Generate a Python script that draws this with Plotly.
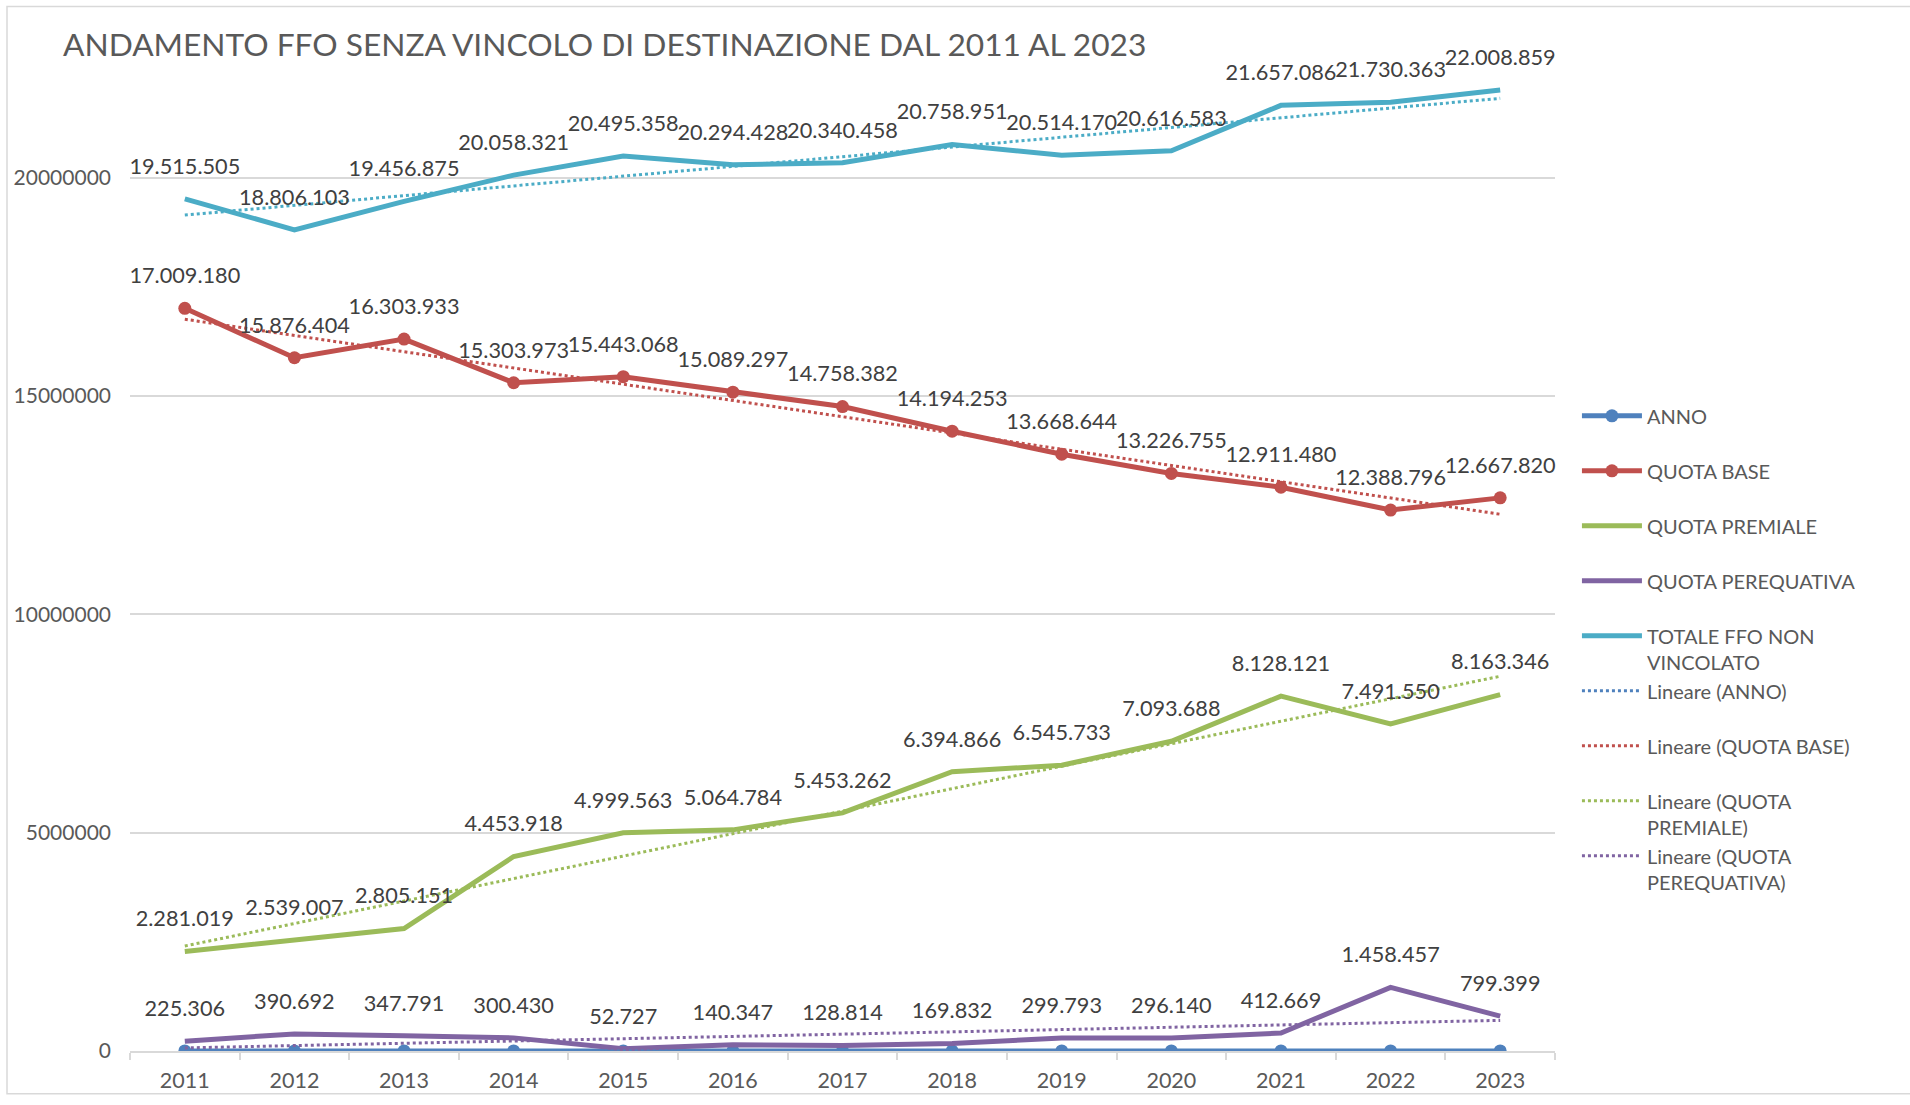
import numpy as np
import plotly.graph_objects as go

# ---------------- data ----------------
years = ["2011", "2012", "2013", "2014", "2015", "2016", "2017",
         "2018", "2019", "2020", "2021", "2022", "2023"]
anno = [2011, 2012, 2013, 2014, 2015, 2016, 2017, 2018, 2019, 2020, 2021, 2022, 2023]
quota_base = [17009180, 15876404, 16303933, 15303973, 15443068, 15089297, 14758382,
              14194253, 13668644, 13226755, 12911480, 12388796, 12667820]
quota_premiale = [2281019, 2539007, 2805151, 4453918, 4999563, 5064784, 5453262,
                  6394866, 6545733, 7093688, 8128121, 7491550, 8163346]
quota_perequativa = [225306, 390692, 347791, 300430, 52727, 140347, 128814,
                     169832, 299793, 296140, 412669, 1458457, 799399]
totale = [19515505, 18806103, 19456875, 20058321, 20495358, 20294428, 20340458,
          20758951, 20514170, 20616583, 21657086, 21730363, 22008859]
y_ticks = [0, 5000000, 10000000, 15000000, 20000000]

C_ANNO = "#4F81BD"
C_BASE = "#C0504D"
C_PREM = "#9BBB59"
C_PERE = "#8064A2"
C_TOT = "#4BACC6"

FONT = "Lato"
GREY = "#595959"
LABEL = "#404040"

fig = go.Figure()

PAD = "<br> "

fig.add_trace(go.Scatter(x=years, y=anno, mode="lines+markers", name="ANNO" + PAD,
                         line=dict(color=C_ANNO, width=5), marker=dict(size=13, color=C_ANNO)))
fig.add_trace(go.Scatter(x=years, y=quota_base, mode="lines+markers", name="QUOTA BASE" + PAD,
                         line=dict(color=C_BASE, width=5), marker=dict(size=13, color=C_BASE)))
fig.add_trace(go.Scatter(x=years, y=quota_premiale, mode="lines", name="QUOTA PREMIALE" + PAD,
                         line=dict(color=C_PREM, width=5)))
fig.add_trace(go.Scatter(x=years, y=quota_perequativa, mode="lines", name="QUOTA PEREQUATIVA" + PAD,
                         line=dict(color=C_PERE, width=5)))
fig.add_trace(go.Scatter(x=years, y=totale, mode="lines", name="TOTALE FFO NON<br>VINCOLATO",
                         line=dict(color=C_TOT, width=5)))

# linear trendlines (least squares, as Excel)
idx = np.arange(len(years))
trend_specs = [
    (anno, C_ANNO, "Lineare (ANNO)" + PAD),
    (quota_base, C_BASE, "Lineare (QUOTA BASE)" + PAD),
    (quota_premiale, C_PREM, "Lineare (QUOTA<br>PREMIALE)"),
    (quota_perequativa, C_PERE, "Lineare (QUOTA<br>PEREQUATIVA)"),
    (totale, C_TOT, "Lineare (TOTALE FFO NON VINCOLATO)"),
]
for vals, col, nm in trend_specs:
    m, q = np.polyfit(idx, np.array(vals, dtype=float), 1)
    fig.add_trace(go.Scatter(x=years, y=m * idx + q, mode="lines", name=nm,
                             line=dict(color=col, width=3, dash="dot"),
                             showlegend=(col != C_TOT), hoverinfo="skip"))

# data labels (separate text layers, offset above the points)
for vals in [totale, quota_base, quota_premiale, quota_perequativa]:
    fig.add_trace(go.Scatter(x=years, y=vals, mode="markers+text",
                             marker=dict(size=30, color="rgba(0,0,0,0)"),
                             texttemplate="%{y:,.0f}", textposition="top center",
                             textfont=dict(family=FONT, size=21.7, color=LABEL),
                             showlegend=False, hoverinfo="skip", cliponaxis=False))

T, B = 62, 46
fig.update_layout(
    width=1910,
    height=1105,
    autosize=False,
    separators=",.",
    paper_bgcolor="white",
    plot_bgcolor="white",
    margin=dict(l=130, r=355, t=T, b=B),
    font=dict(family=FONT, color=GREY, size=20),
    title=dict(text="ANDAMENTO FFO SENZA VINCOLO DI DESTINAZIONE DAL 2011 AL 2023",
               font=dict(family=FONT, size=31.7, color=GREY),
               x=63 / 1910, xanchor="left", xref="container",
               y=1 - 45 / 1105, yanchor="middle", yref="container"),
    legend=dict(x=1.0154, xanchor="left", y=0.662, yanchor="top",
                font=dict(family=FONT, size=20, color=GREY),
                valign="top", itemwidth=60, bgcolor="rgba(0,0,0,0)",
                traceorder="normal"),
    xaxis=dict(type="category", range=[-0.5, 12.5], showline=True, linecolor="#D9D9D9",
               linewidth=1.5, ticks="outside", tickson="boundaries", ticklen=7,
               tickcolor="#D9D9D9", tickwidth=1.5, showgrid=False,
               tickfont=dict(family=FONT, size=21.5, color=GREY), ticklabelstandoff=9),
    yaxis=dict(range=[0, 22650000], tickvals=y_ticks, tickformat="d",
               showgrid=True, gridcolor="#D9D9D9", gridwidth=1.5, zeroline=False,
               showline=False, ticks="", ticklabelstandoff=18,
               tickfont=dict(family=FONT, size=21, color=GREY)),
    shapes=[dict(type="rect", xref="paper", yref="paper",
                 x0=(7 - 130) / 1425, x1=(1915 - 130) / 1425,
                 y0=-(1102 - (1105 - B)) / (1105 - T - B),
                 y1=((1105 - B) - 6) / (1105 - T - B),
                 line=dict(color="#D9D9D9", width=1.5), fillcolor="rgba(0,0,0,0)",
                 layer="below")],
)

fig.write_html(
    "out.html",
    config={"displayModeBar": False},
    post_script="document.documentElement.style.margin='0';document.body.style.margin='0';"
                "document.documentElement.style.overflow='hidden';document.body.style.overflow='hidden';",
)
